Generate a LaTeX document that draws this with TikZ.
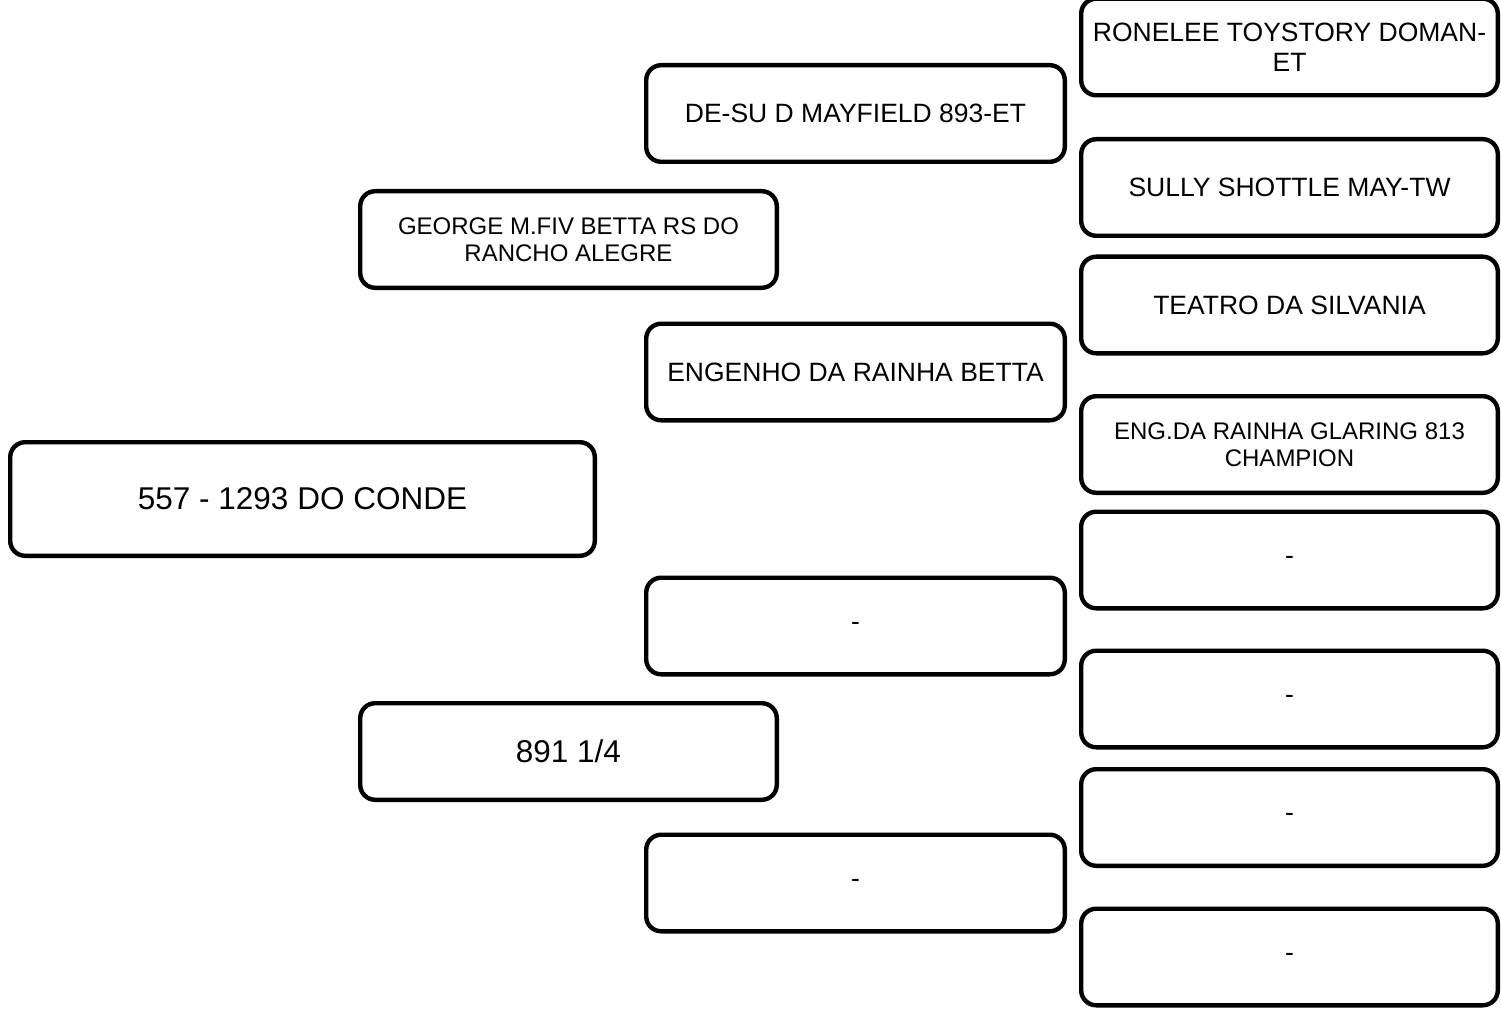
\documentclass[tikz,border=0pt]{standalone}
\usepackage{fontspec}
\setmainfont{Liberation Sans}
\begin{document}
\begin{tikzpicture}[x=0.5pt,y=-0.5pt,
  box/.style={draw=black, line width=2.2pt, rounded corners=7.5pt, fill=white,
    align=center, inner sep=0pt},
  rootbox/.style={box, minimum width=292.3pt, minimum height=56.8pt,
    font=\fontsize{15.75}{18}\selectfont},
  genbox/.style={box, minimum width=208.3pt, minimum height=48.3pt,
    font=\fontsize{13.25}{15}\selectfont},
  midbox/.style={box, minimum width=209.3pt, minimum height=48.3pt,
    font=\fontsize{13.25}{15}\selectfont},
  smalltxt/.style={font=\fontsize{12}{13.5}\selectfont},
  bigtxt/.style={font=\fontsize{15.75}{18}\selectfont}
]
\fill[white] (0,0) rectangle (1501,1011);
\useasboundingbox (0,0) rectangle (1501,1011);

% generation 1
\node[rootbox] (root) at (302.5,499) {557 - 1293 DO CONDE};

% generation 2
\node[genbox, smalltxt] (sire) at (568.5,239.5) {GEORGE M.FIV BETTA RS DO\\RANCHO ALEGRE};
\node[genbox, bigtxt] (dam) at (568.5,751.5) {891 1/4};

% generation 3
\node[midbox] (ss) at (855.5,113.5) {DE-SU D MAYFIELD 893-ET};
\node[midbox] (sd) at (855.5,372) {ENGENHO DA RAINHA BETTA};
\node[midbox] (ds) at (855.5,626) {-};
\node[midbox] (dd) at (855.5,883) {-};

% generation 4
\node[genbox] (sss) at (1289.5,47) {RONELEE TOYSTORY DOMAN-\\ET};
\node[genbox] (ssd) at (1289.5,187.5) {SULLY SHOTTLE MAY-TW};
\node[genbox] (sds) at (1289.5,305) {TEATRO DA SILVANIA};
\node[genbox, smalltxt] (sdd) at (1289.5,444.5) {ENG.DA RAINHA GLARING 813\\CHAMPION};
\node[genbox] (dss) at (1289.5,560) {-};
\node[genbox] (dsd) at (1289.5,699) {-};
\node[genbox] (dds) at (1289.5,817.5) {-};
\node[genbox] (ddd) at (1289.5,957) {-};
\end{tikzpicture}
\end{document}
